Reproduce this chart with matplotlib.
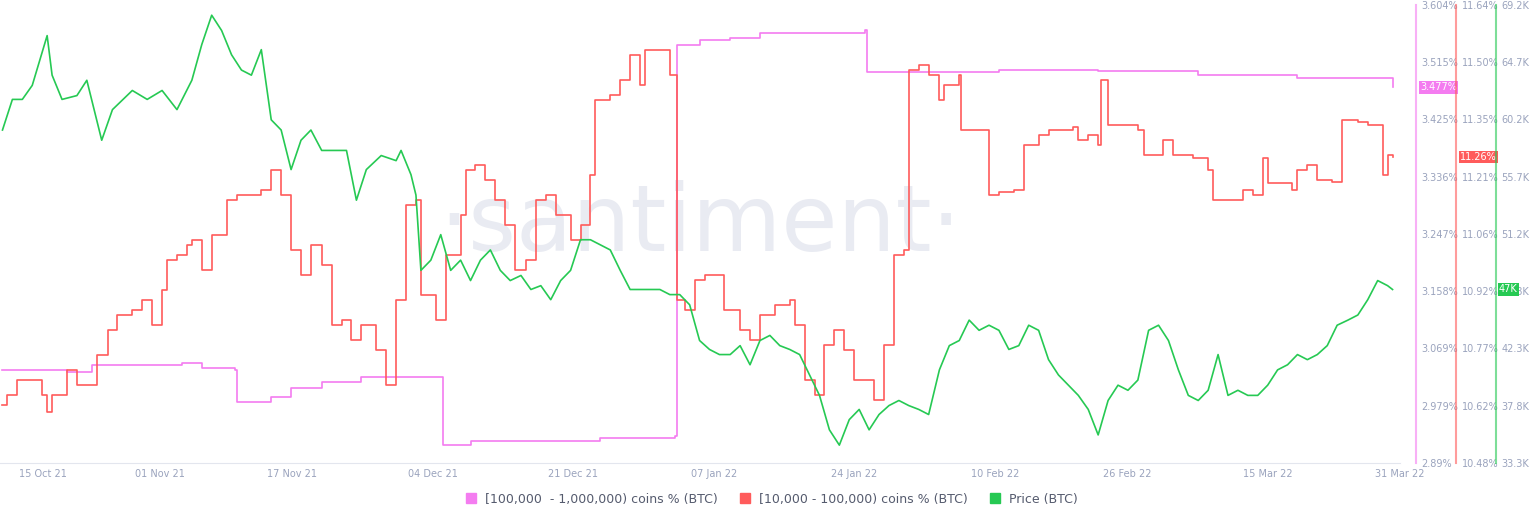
import matplotlib
matplotlib.use("Agg")
import matplotlib.pyplot as plt
import matplotlib.dates as mdates
import numpy as np
import datetime as dt

start = dt.datetime(2021, 10, 13)

price_days = [0,1.2,2.4,3.6,5.4,6.0,7.2,9.0,10.2,12.0,13.3,15.7,17.5,19.3,21.1,22.9,24.1,25.3,26.5,27.7,28.9,30.1,31.3,32.5,33.7,34.9,36.1,37.3,38.6,39.8,41.6,42.8,44.0,45.8,47.6,48.2,49.4,50.0,50.6,51.8,53.0,54.2,55.4,56.6,57.8,59.0,60.2,61.4,62.7,63.9,65.1,66.3,67.5,68.7,69.9,71.1,72.3,73.5,74.7,75.9,77.1,78.3,79.5,80.7,81.9,83.1,84.3,85.5,86.7,88.0,89.2,90.4,91.6,92.8,94.0,95.2,96.4,97.6,98.8,100.0,101.2,102.4,103.6,104.8,106.0,107.2,108.4,109.6,110.8,112.0,113.3,114.5,115.7,116.9,118.1,119.3,120.5,121.7,122.9,124.1,125.3,126.5,127.7,128.9,130.1,131.3,132.5,133.7,134.9,136.1,137.3,138.6,139.8,141.0,142.2,143.4,144.6,145.8,147.0,148.2,149.4,150.6,151.8,153.0,154.2,155.4,156.6,157.8,159.0,160.2,161.4,162.7,163.9,165.1,166.3,167.5,168.1]
price_vals = [59.4,61.8,61.8,62.9,66.8,63.7,61.8,62.1,63.3,58.6,61.0,62.5,61.8,62.5,61.0,63.3,66.1,68.4,67.2,65.3,64.1,63.7,65.7,60.2,59.4,56.3,58.6,59.4,57.8,57.8,57.8,53.9,56.3,57.4,57.0,57.8,55.9,54.3,48.4,49.2,51.2,48.4,49.2,47.6,49.2,50.0,48.4,47.6,48.0,46.9,47.2,46.1,47.6,48.4,50.8,50.8,50.4,50.0,48.4,46.9,46.9,46.9,46.9,46.5,46.5,45.7,42.9,42.2,41.8,41.8,42.5,41.0,42.9,43.3,42.5,42.2,41.8,40.2,38.6,35.9,34.7,36.7,37.5,35.9,37.1,37.8,38.2,37.8,37.5,37.1,40.6,42.5,42.9,44.5,43.7,44.1,43.7,42.2,42.5,44.1,43.7,41.4,40.2,39.4,38.6,37.5,35.5,38.2,39.4,39.0,39.8,43.7,44.1,42.9,40.6,38.6,38.2,39.0,41.8,38.6,39.0,38.6,38.6,39.4,40.6,41.0,41.8,41.4,41.8,42.5,44.1,44.5,44.9,46.1,47.6,47.2,46.9]

red_days = [0,0.6,1.8,4.8,5.4,6.0,7.8,9.0,11.4,12.7,13.9,15.7,16.9,18.1,19.3,19.9,21.1,22.3,22.9,24.1,25.3,27.1,28.3,31.3,32.5,33.7,34.9,36.1,37.3,38.6,39.8,41.0,42.2,43.4,45.2,46.4,47.6,48.8,50.0,50.6,52.4,53.6,55.4,56.0,57.2,58.4,59.6,60.8,62.0,63.3,64.5,65.7,66.9,68.7,69.9,71.1,71.7,73.5,74.7,75.9,77.1,77.7,80.7,81.6,82.5,83.7,84.9,87.3,89.2,90.4,91.6,93.4,95.2,95.8,97.0,98.2,99.4,100.6,101.8,103.0,105.4,106.6,107.8,109.0,109.6,110.8,112.0,113.3,113.9,115.7,115.9,119.3,120.5,122.3,123.5,125.3,126.5,129.5,130.1,131.3,132.5,132.9,133.7,137.3,138.0,140.4,141.6,144.0,145.8,146.4,150.0,151.2,152.4,153.0,156.0,156.6,157.8,159.0,160.8,162.0,163.9,165.1,166.9,167.5,168.1]
red_vals = [10.627,10.652,10.690,10.652,10.609,10.652,10.715,10.677,10.753,10.817,10.855,10.867,10.893,10.829,10.918,10.994,11.007,11.032,11.045,10.969,11.057,11.146,11.159,11.171,11.222,11.159,11.019,10.956,11.032,10.981,10.829,10.842,10.791,10.829,10.766,10.677,10.893,11.133,11.146,10.905,10.842,11.007,11.108,11.222,11.235,11.197,11.146,11.083,10.969,10.994,11.146,11.159,11.108,11.045,11.083,11.209,11.399,11.412,11.450,11.513,11.437,11.526,11.463,10.893,10.867,10.943,10.956,10.867,10.817,10.791,10.855,10.880,10.893,10.829,10.690,10.652,10.779,10.817,10.766,10.690,10.639,10.779,11.007,11.019,11.475,11.488,11.463,11.399,11.437,11.463,11.323,11.159,11.166,11.171,11.285,11.311,11.323,11.331,11.298,11.311,11.285,11.450,11.336,11.323,11.260,11.298,11.260,11.252,11.222,11.146,11.171,11.159,11.252,11.189,11.171,11.222,11.235,11.197,11.192,11.349,11.344,11.336,11.209,11.260,11.255]

pink_days = [0,7.8,10.8,21.7,24.1,28.1,28.3,32.5,34.9,38.6,43.4,53.0,53.3,56.6,72.3,81.3,81.6,84.3,88.0,91.6,104.3,104.6,120.5,132.5,144.6,156.6,168.1]
pink_vals = [3.035,3.032,3.043,3.046,3.038,3.035,2.985,2.993,3.007,3.016,3.024,3.024,2.918,2.924,2.929,2.932,3.542,3.549,3.553,3.560,3.565,3.500,3.503,3.501,3.495,3.490,3.476]

tick_dates = ["2021-10-15","2021-11-01","2021-11-17","2021-12-04","2021-12-21","2022-01-07","2022-01-24","2022-02-10","2022-02-26","2022-03-15","2022-03-31"]
tick_labels = ["15 Oct 21","01 Nov 21","17 Nov 21","04 Dec 21","21 Dec 21","07 Jan 22","24 Jan 22","10 Feb 22","26 Feb 22","15 Mar 22","31 Mar 22"]

PINK, RED, GREEN = "#f47cf0", "#ff5b5b", "#26c953"
TXT = "#9aa3bd"

def todates(days):
    return [start + dt.timedelta(days=d) for d in days]

fig = plt.figure(figsize=(15.36, 5.2), dpi=100)
W, H = 1536, 520
ax = fig.add_axes([0, 1 - 463/H, 1400/W, (463-5)/H])
ax.set_xlim(start - dt.timedelta(days=0.3), start + dt.timedelta(days=168.4))
ax.set_yticks([])
for s in ["top", "left", "right"]:
    ax.spines[s].set_visible(False)
ax.spines["bottom"].set_color("#e3e6ee")
ax.set_xticks([mdates.datestr2num(d) for d in tick_dates])
ax.set_xticklabels(tick_labels, fontsize=7, color=TXT)
ax.tick_params(axis="x", length=0, pad=4)
ax.get_xticklabels()[0].set_horizontalalignment("left")
ax.text(0.5, 0.52, "·santiment·", transform=ax.transAxes, ha="center", va="center",
        fontsize=66, color="#e9ebf2", zorder=0)

def make(lim, offset, color, fmt, zorder):
    a = ax.twinx()
    a.set_ylim(*lim)
    for s in ["top", "left", "bottom"]:
        a.spines[s].set_visible(False)
    a.spines["right"].set_position(("axes", offset))
    a.spines["right"].set_color(color)
    a.spines["right"].set_alpha(0.6)
    a.spines["right"].set_linewidth(1.5)
    t = np.linspace(lim[0], lim[1], 9)
    a.set_yticks(t)
    a.set_yticklabels([fmt(v) for v in t], fontsize=7, color=TXT)
    a.tick_params(axis="y", length=0, pad=4)
    a.set_zorder(zorder)
    a.patch.set_visible(False)
    return a

ap = make((2.89, 3.604), 1416/1400, PINK, lambda v: "2.89%" if abs(v-2.89) < 1e-6 else f"{v:.3f}%", 2)
ar = make((10.48, 11.64), 1456/1400, RED, lambda v: f"{v:.2f}%", 3)
ag = make((33.3, 69.2), 1496/1400, GREEN, lambda v: f"{v:.1f}K", 4)

ap.plot(todates(pink_days), pink_vals, color=PINK, lw=1.2, drawstyle="steps-post")
ar.plot(todates(red_days), red_vals, color=RED, lw=1.2, drawstyle="steps-post")
ag.plot(todates(price_days), price_vals, color=GREEN, lw=1.2)

def badge(a, x, y, txt, color):
    a.annotate(txt, xy=(x, y), xycoords=("axes fraction", "data"), ha="left", va="center",
               fontsize=7, color="white",
               bbox=dict(boxstyle="square,pad=0.15", fc=color, ec="none"), zorder=10,
               annotation_clip=False)

badge(ap, 1420/1400, pink_vals[-1], "3.477%", PINK)
badge(ar, 1460/1400, red_vals[-1], "11.26%", RED)
badge(ag, 1499/1400, price_vals[-1], "47K", GREEN)

labels = ["[100,000  - 1,000,000) coins % (BTC)", "[10,000 - 100,000) coins % (BTC)", "Price (BTC)"]
handles = [plt.Line2D([], [], marker="s", ls="", color=c, markersize=7) for c in (PINK, RED, GREEN)]
fig.legend(handles, labels, loc="center", bbox_to_anchor=(0.5, 1 - 499/H), ncol=3, frameon=False,
           fontsize=9, labelcolor="#555b6e", handletextpad=0.1, columnspacing=1.2)

fig.savefig("out.png", dpi=100)
